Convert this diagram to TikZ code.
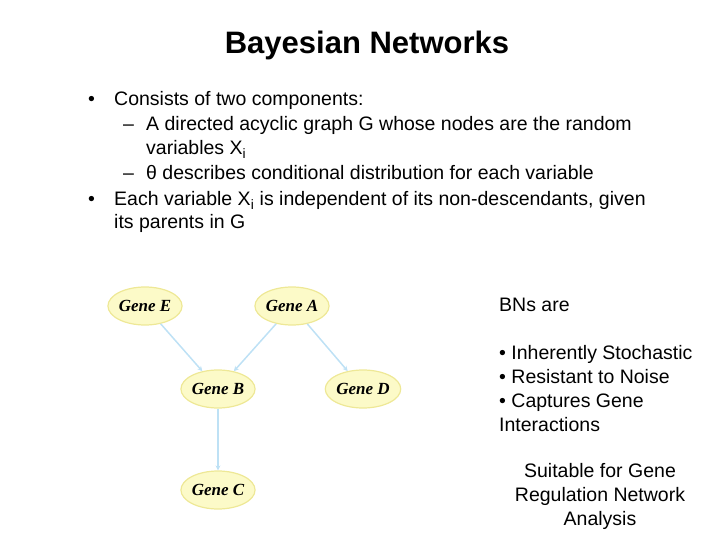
\documentclass[tikz,border=0pt]{standalone}
\usepackage{fontspec}
\setmainfont{Liberation Sans}
\newfontfamily\genefont{Liberation Serif}
\usetikzlibrary{shapes.geometric,arrows.meta}
\definecolor{gfill}{RGB}{252,250,200}
\definecolor{gdraw}{RGB}{238,232,150}
\definecolor{edge}{RGB}{190,225,245}
\tikzset{
 gene/.style={ellipse,fill=gfill,draw=gdraw,line width=1.2pt,minimum width=64pt,minimum height=38pt,inner sep=0pt,font=\genefont\bfseries\itshape\fontsize{17}{17}\selectfont},
 conn/.style={draw=edge,line width=1.5pt,-{Stealth[length=5pt,width=5pt]}},
 txt/.style={anchor=base west,inner sep=0pt,font=\fontsize{19.5}{20}\selectfont}
}
\begin{document}
\begin{tikzpicture}[x=1pt,y=-1pt]
\useasboundingbox (0,0) rectangle (720,540);
\node[anchor=base,inner sep=0pt,font=\bfseries\fontsize{31}{31}\selectfont] (title) at (367,54) {Bayesian Networks};
\node[txt] (b1) at (88,106) {•};
\node[txt] (l1) at (114,106) {Consists of two components:};
\node[txt] (d1) at (123,131) {–};
\node[txt] (l2) at (146,131) {A directed acyclic graph G whose nodes are the random};
\node[txt] (l3) at (146,155) {variables X\textsubscript{i}};
\node[txt] (d2) at (123,180) {–};
\node[txt] (l4) at (146,180) {θ describes conditional distribution for each variable};
\node[txt] (b2) at (88,206) {•};
\node[txt] (l5) at (114,206) {Each variable X\textsubscript{i} is independent of its non-descendants, given};
\node[txt] (l6) at (114,229) {its parents in G};
\node[txt] (r1) at (499,311) {BNs are};
\node[txt] (r2) at (499,359) {• Inherently Stochastic};
\node[txt] (r3) at (499,383) {• Resistant to Noise};
\node[txt] (r4) at (499,407) {• Captures Gene};
\node[txt] (r5) at (499,431) {Interactions};
\node[align=center,inner sep=0pt,font=\fontsize{19.5}{24}\selectfont] (s) at (600,496) {Suitable for Gene\\Regulation Network\\Analysis};
\node[gene] (E) at (145,306) {Gene E};
\node[gene] (A) at (292,306) {Gene A};
\node[gene] (B) at (218,389) {Gene B};
\node[gene] (D) at (363,389) {Gene D};
\node[gene] (C) at (218,490) {Gene C};
\draw[conn] (E) -- (B);
\draw[conn] (A) -- (B);
\draw[conn] (A) -- (D);
\draw[conn] (B) -- (C);
\end{tikzpicture}
\end{document}
